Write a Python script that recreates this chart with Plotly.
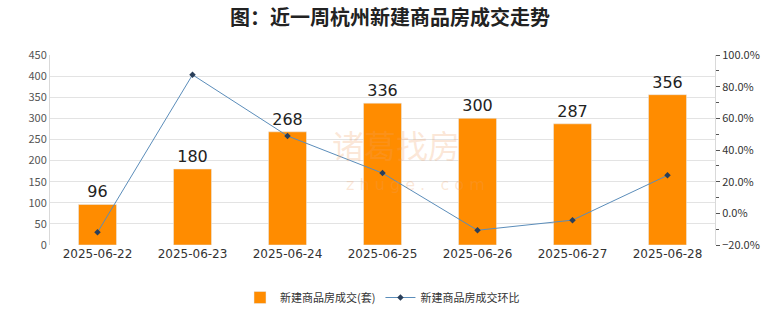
import plotly.graph_objects as go

dates = ["2025-06-22", "2025-06-23", "2025-06-24", "2025-06-25", "2025-06-26", "2025-06-27", "2025-06-28"]
deals = [96, 180, 268, 336, 300, 287, 356]
mom_pct = [-12.0, 87.5, 48.9, 25.4, -10.7, -4.3, 24.0]

font_family = "Noto Sans CJK SC, Noto Sans, sans-serif"

fig = go.Figure()
fig.add_trace(go.Bar(
    x=dates, y=deals, name="新建商品房成交(套)",
    marker=dict(color="#FF8C00"),
    text=[str(v) for v in deals], textposition="outside",
    textfont=dict(size=16, color="#222222", family="DejaVu Sans"),
    cliponaxis=False,
))
fig.add_trace(go.Scatter(
    x=dates, y=mom_pct, name="新建商品房成交环比", yaxis="y2",
    mode="lines+markers",
    line=dict(color="#5B8DBA", width=1),
    marker=dict(symbol="diamond", size=5, color="#2A3F5A"),
))

fig.add_annotation(text="诸葛找房", x=0.52, y=0.53, xref="paper", yref="paper",
                   showarrow=False, font=dict(size=32, color="rgba(240,160,100,0.25)", family=font_family))
fig.add_annotation(text="z h u g e .   c o m", x=0.55, y=0.26, xref="paper", yref="paper",
                   showarrow=False, font=dict(size=16, color="rgba(240,160,100,0.25)", family="DejaVu Sans"))

fig.update_layout(
    width=780, height=328,
    margin=dict(l=50, r=65, t=55, b=83),
    paper_bgcolor="white", plot_bgcolor="white",
    font=dict(family=font_family, color="#333333"),
    title=dict(text="<b>图：近一周杭州新建商品房成交走势</b>", x=0.5, xanchor="center",
               y=0.945, yanchor="middle", font=dict(size=20, color="#222222")),
    bargap=0.6,
    xaxis=dict(type="category", showgrid=False, ticks="", showline=False,
               tickfont=dict(size=12, color="#333333", family="DejaVu Sans")),
    yaxis=dict(range=[0, 450], dtick=50, showgrid=True, gridcolor="#E3E3E3",
               showline=True, linecolor="#D9D9D9", ticks="", zeroline=False,
               tickfont=dict(size=11, color="#555555")),
    yaxis2=dict(range=[-20, 100], dtick=20, overlaying="y", side="right",
                showgrid=False, zeroline=False, showline=True, linecolor="#D9D9D9",
                ticks="outside", ticklen=4, tickcolor="#555555",
                minor=dict(dtick=10, ticks="outside", ticklen=3, tickcolor="#555555"),
                tickformat=".1f", ticksuffix="%",
                tickfont=dict(size=11, color="#333333")),
    legend=dict(orientation="h", x=0.5, xanchor="center", y=-0.2, yanchor="top",
                font=dict(size=11, color="#333333")),
)

fig.write_html("out.html")
